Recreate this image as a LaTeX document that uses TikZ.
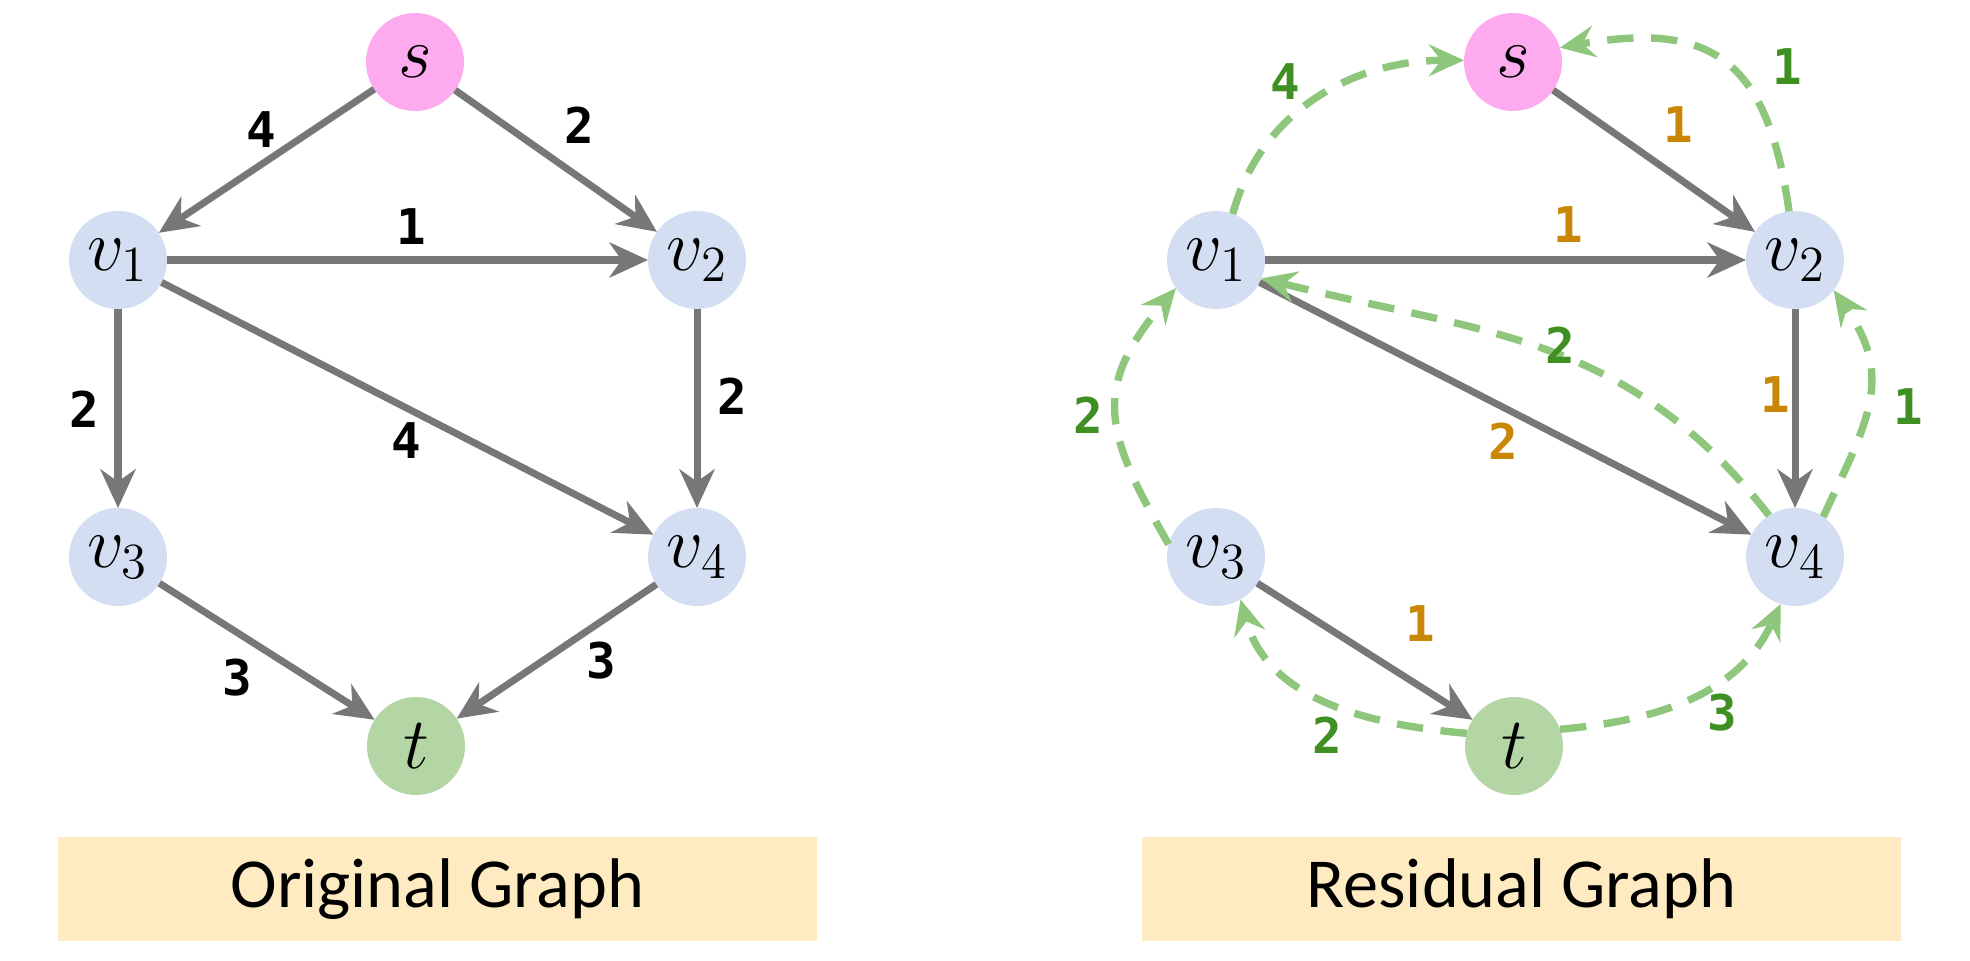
\documentclass[tikz,border=0pt]{standalone}
\usepackage{fontspec}
\usepackage{tikz}
\usetikzlibrary{arrows.meta}

\newfontfamily\capfont{DejaVu Sans Mono}
\newfontfamily\titlefont{Carlito}

\definecolor{vblue}{HTML}{D3DEF2}
\definecolor{spink}{HTML}{FDAAEE}
\definecolor{tgreen}{HTML}{B4D6A4}
\definecolor{edgegray}{HTML}{777777}
\definecolor{resgreen}{HTML}{8EC67C}
\definecolor{labgreen}{HTML}{3F8F22}
\definecolor{laborange}{HTML}{C98705}
\definecolor{boxyellow}{HTML}{FEEBC1}

\tikzset{
  vtx/.style={circle, fill=vblue, minimum size=0.98cm, inner sep=0pt, outer sep=0pt,
    font=\fontsize{22}{26}\selectfont},
  edge/.style={draw=edgegray, line width=2pt,
    -{Stealth[length=11pt, width=10pt, inset=3.5pt]}},
  res/.style={draw=resgreen, line width=2.1pt, dash pattern=on 7.5pt off 5pt,
    -{Stealth[length=10pt, width=9pt, inset=3.5pt]}},
  wlabel/.style={font=\capfont\bfseries\fontsize{14}{16}\selectfont},
  fwd/.style={wlabel, text=laborange},
  bwd/.style={wlabel, text=labgreen},
  titlebox/.style={fill=boxyellow, minimum width=7.59cm, minimum height=1.04cm,
    inner sep=0pt, font=\titlefont\fontsize{20}{24}\selectfont}
}

\begin{document}
\begin{tikzpicture}
  \useasboundingbox (0, 0) rectangle (19.7, 9.6);

  % original graph
  \node [vtx, fill=spink] (os) at (4.15, 8.98) {$s$};
  \node [vtx] (ov1) at (1.18, 7.00) {$v_1$};
  \node [vtx] (ov2) at (6.97, 7.00) {$v_2$};
  \node [vtx] (ov3) at (1.18, 4.03) {$v_3$};
  \node [vtx] (ov4) at (6.97, 4.03) {$v_4$};
  \node [vtx, fill=tgreen] (ot) at (4.16, 2.14) {$t$};

  \draw [edge] (os) -- (ov1);
  \draw [edge] (os) -- (ov2);
  \draw [edge] (ov1) -- (ov2);
  \draw [edge] (ov1) -- (ov3);
  \draw [edge] (ov1) -- (ov4);
  \draw [edge] (ov2) -- (ov4);
  \draw [edge] (ov3) -- (ot);
  \draw [edge] (ov4) -- (ot);

  \node [wlabel] (oc1) at (2.61, 8.30) {4};
  \node [wlabel] (oc2) at (5.79, 8.35) {2};
  \node [wlabel] (oc3) at (4.11, 7.33) {1};
  \node [wlabel] (oc4) at (0.84, 5.51) {2};
  \node [wlabel] (oc5) at (7.32, 5.64) {2};
  \node [wlabel] (oc6) at (4.06, 5.19) {4};
  \node [wlabel] (oc7) at (2.37, 2.82) {3};
  \node [wlabel] (oc8) at (6.01, 2.99) {3};

  \node [titlebox] (otitle) at (4.375, 0.71) {Original Graph};

  % residual graph
  \node [vtx, fill=spink] (rs) at (15.13, 8.98) {$s$};
  \node [vtx] (rv1) at (12.16, 7.00) {$v_1$};
  \node [vtx] (rv2) at (17.95, 7.00) {$v_2$};
  \node [vtx] (rv3) at (12.16, 4.03) {$v_3$};
  \node [vtx] (rv4) at (17.95, 4.03) {$v_4$};
  \node [vtx, fill=tgreen] (rt) at (15.14, 2.14) {$t$};

  \draw [edge] (rs) -- (rv2);
  \draw [edge] (rv1) -- (rv2);
  \draw [edge] (rv1) -- (rv4);
  \draw [edge] (rv2) -- (rv4);
  \draw [edge] (rv3) -- (rt);

  \draw [res] (rv1.70) to [out=75, in=180] (rs.178);
  \draw [res] (rv2.97) to [out=98, in=10, looseness=1.4] (rs.17);
  \draw [res] (rv4.122) to [out=128, in=-14, looseness=1.05] (rv1.-22);
  \draw [res] (rv3.165) to [out=120, in=-130, looseness=1.3] (rv1.-145);
  \draw [res] (rv4.55) to [out=65, in=-55, looseness=1.2] (rv2.-38);
  \draw [res] (rt.165) to [out=175, in=-75] (rv3.-60);
  \draw [res] (rt.20) to [out=5, in=-115] (rv4.-107);

  \node [bwd] (rc1) at (12.85, 8.78) {4};
  \node [bwd] (rc2) at (17.87, 8.93) {1};
  \node [fwd] (rc3) at (16.78, 8.35) {1};
  \node [fwd] (rc4) at (15.68, 7.35) {1};
  \node [bwd] (rc5) at (15.60, 6.15) {2};
  \node [bwd] (rc6) at (10.88, 5.45) {2};
  \node [fwd] (rc7) at (17.75, 5.65) {1};
  \node [bwd] (rc8) at (19.08, 5.53) {1};
  \node [fwd] (rc9) at (15.03, 5.19) {2};
  \node [fwd] (rc10) at (14.20, 3.36) {1};
  \node [bwd] (rc11) at (13.27, 2.25) {2};
  \node [bwd] (rc12) at (17.22, 2.47) {3};

  \node [titlebox] (rtitle) at (15.215, 0.71) {Residual Graph};
\end{tikzpicture}
\end{document}
